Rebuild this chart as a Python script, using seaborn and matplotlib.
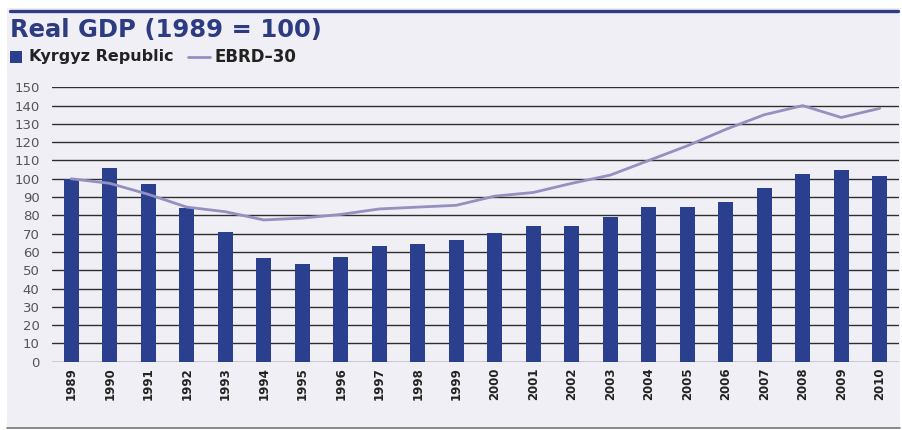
import numpy as np
import pandas as pd
import matplotlib
matplotlib.use("Agg")
import matplotlib.pyplot as plt
from matplotlib.patches import Rectangle
from matplotlib.lines import Line2D
import seaborn as sns

# Real GDP index, 1989 = 100
years = [str(y) for y in range(1989, 2011)]
kyrgyz = [100, 106, 97, 84, 71, 56.5, 53.5, 57.5, 63, 64.5, 66.5, 70.5,
          74, 74, 79, 84.5, 84.5, 87.5, 95, 102.5, 105, 101.5]
ebrd30 = [100, 97.5, 91.5, 84.5, 82, 77.5, 78.5, 80.5, 83.5, 84.5, 85.5, 90.5,
          92.5, 97.5, 102, 110, 118, 127, 135, 140, 133.5, 138.5]
y_ticks = list(range(0, 151, 10))

BAR_BLUE = "#2B3F8F"
LINE_LAV = "#9490C0"
TITLE_BLUE = "#2D3C82"
PANEL_BG = "#EFEFF5"
TEXT_DARK = "#222222"
TICK_GREY = "#555555"

sns.set_theme(style="white")
plt.rcParams["font.family"] = ["DejaVu Sans"]

df = pd.DataFrame({"year": years, "kyrgyz": kyrgyz, "ebrd": ebrd30,
                   "pos": np.arange(len(years))})

W, H = 902, 430
fig = plt.figure(figsize=(W / 100, H / 100), dpi=100)
fig.patch.set_facecolor("white")

# light panel behind the whole graphic
fig.patches.append(Rectangle((7 / W, 2 / H), 893 / W, 420 / H,
                             transform=fig.transFigure, facecolor=PANEL_BG,
                             edgecolor="none", zorder=-10))
# heavy rule across the top, thin grey rule along the bottom
fig.lines.append(Line2D([10 / W, 898 / W], [1 - 10.5 / H, 1 - 10.5 / H],
                        transform=fig.transFigure, color=TITLE_BLUE, lw=2.4))
fig.lines.append(Line2D([7 / W, 900 / W], [2 / H, 2 / H],
                        transform=fig.transFigure, color="#777777", lw=1.2))

ax = fig.add_axes([52 / W, 1 - 361.7 / H, 847 / W, (361.7 - 87.3) / H])
ax.set_facecolor("none")

sns.barplot(data=df, x="year", y="kyrgyz", color=BAR_BLUE, width=0.4,
            saturation=1, linewidth=0, ax=ax, zorder=3)
sns.lineplot(data=df, x="pos", y="ebrd", color=LINE_LAV, lw=2.0, ax=ax,
             zorder=4)

ax.set_xlim(-0.5, len(years) - 0.5)
ax.set_ylim(0, 150)
ax.set_yticks(y_ticks)
ax.set_yticklabels([str(t) for t in y_ticks], color=TICK_GREY, fontsize=9.5)
ax.set_xticks(range(len(years)))
ax.set_xticklabels(years, rotation=90, fontsize=8.5, fontweight="bold",
                   color=TEXT_DARK)
ax.tick_params(axis="y", length=0, pad=9)
ax.tick_params(axis="x", length=0, pad=4)
for t in y_ticks:
    ax.axhline(t, color="#2E2E2E", lw=1.0, zorder=1)
for s in ax.spines.values():
    s.set_visible(False)
ax.set_xlabel("")
ax.set_ylabel("")
ax.grid(False)
leg = ax.get_legend()
if leg is not None:
    leg.remove()

# title and legend rows
fig.text(10 / W, 1 - 30 / H, "Real GDP (1989 = 100)", fontsize=17.5,
         fontweight="bold", color=TITLE_BLUE, va="center", ha="left")
fig.patches.append(Rectangle((10 / W, 1 - 63 / H), 12 / W, 12 / H,
                             transform=fig.transFigure, facecolor=BAR_BLUE,
                             edgecolor="none"))
fig.text(29 / W, 1 - 57 / H, "Kyrgyz Republic", fontsize=11.5,
         fontweight="bold", color=TEXT_DARK, va="center", ha="left")
fig.lines.append(Line2D([188 / W, 210 / W], [1 - 57 / H, 1 - 57 / H],
                        transform=fig.transFigure, color=LINE_LAV, lw=2.0))
fig.text(214 / W, 1 - 57 / H, "EBRD\u201330", fontsize=12,
         fontweight="bold", color=TEXT_DARK, va="center", ha="left")

fig.savefig("out.png", dpi=100, facecolor=fig.get_facecolor())
